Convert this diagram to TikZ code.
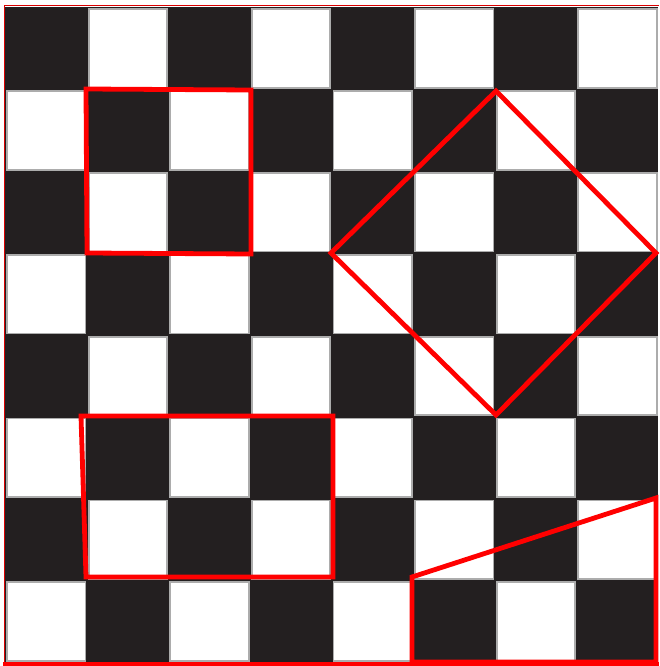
\documentclass[tikz,border=0pt]{standalone}
\definecolor{boardc}{HTML}{231F20}
\definecolor{redc}{HTML}{FF0000}
\begin{document}
\begin{tikzpicture}[x=1pt,y=-1pt,
  redline/.style={draw=redc, line width=4.8pt, line join=miter},
  whitecell/.style={fill=white, draw=gray!65, line width=1.8pt}]
\useasboundingbox (0,0) rectangle (659,666);
\fill[white] (0,0) rectangle (659,666);
\fill[boardc] (5,7) rectangle (658,662);
\foreach \r in {0,...,7}{
  \foreach \c in {0,...,7}{
    \pgfmathparse{int(mod(\r+\c,2))}
    \ifnum\pgfmathresult=1
      \filldraw[whitecell] ({5+\c*81.6+2},{7+\r*81.9+2}) rectangle ({5+(\c+1)*81.6-1.2},{7+(\r+1)*81.9-1.2});
    \fi
  }
}
% outer frame
\draw[redc!85!black, line width=1.5pt] (4.5,663) -- (4.5,5.5) -- (659,5.5);
\draw[redc, line width=4pt] (3,664) -- (659,664);
% red shapes
\draw[redline] (86,89) -- (251,90) -- (251,254) -- (87,253) -- cycle;
\draw[redline] (496,91) -- (656,253) -- (496,415) -- (331,253) -- cycle;
\draw[redline] (81,416) -- (333,416) -- (333,577) -- (86,577) -- cycle;
\draw[redline] (412,577) -- (656,498) -- (656,662) -- (412,662) -- cycle;
\end{tikzpicture}
\end{document}
